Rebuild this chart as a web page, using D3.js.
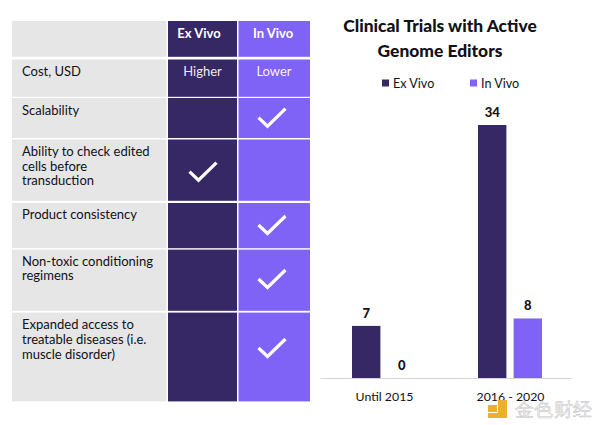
<!DOCTYPE html>
<html><head><meta charset="utf-8">
<script src="https://cdn.jsdelivr.net/npm/d3@7"></script>
<style>html,body{margin:0;padding:0;background:#fff}svg{display:block}text{font-family:Lato,"Open Sans",sans-serif}</style>
</head><body><svg id="c" width="600" height="425"></svg>
<script>
// ---- data ----
const methods = ["Ex Vivo", "In Vivo"];
const periods = ["Until 2015", "2016 - 2020"];
const exVivoTrials = [7, 34];
const inVivoTrials = [0, 8];
const chartTitle = ["Clinical Trials with Active", "Genome Editors"];
const rowLabels = [
  ["Cost, USD"],
  ["Scalability"],
  ["Ability to check edited", "cells before", "transduction"],
  ["Product consistency"],
  ["Non-toxic conditioning", "regimens"],
  ["Expanded access to", "treatable diseases (i.e.", "muscle disorder)"]
];
const exVivoCells = ["Higher", "", "check", "", "", ""];
const inVivoCells = ["Lower", "check", "", "check", "check", "check"];

// ---- styles / layout ----
const DARK = "#352865", PURPLE = "#7F63F7", GREY = "#E6E6E6", INK = "#111118";
const svg = d3.select("#c");
const rowEdges = [[59.5,96.8],[98,138],[139.5,200.8],[203,248.2],[249.6,310.8],[312.6,401.4]];
const textOffsets = [16, 17, 16.5, 16, 16, 16.7];
const checkCentres = [0, 117.7, 171.7, 225, 279, 348];
const colEdges = [[12,166.5],[168,237],[238.5,310]];
const lineH = 14.6;

// table header
[[colEdges[0],GREY,""],[colEdges[1],DARK,methods[0]],[colEdges[2],PURPLE,methods[1]]].forEach(([c,f,t],i)=>{
  svg.append("rect").attr("x",c[0]).attr("y",21).attr("width",c[1]-c[0]).attr("height",35.8).attr("fill",f);
  if(t) svg.append("text").attr("x",i===1?199:273).attr("y",38).attr("text-anchor","middle")
    .attr("font-size",13).attr("font-weight",700).attr("fill","#fff").text(t);
});

function check(cx, cy){
  svg.append("path").attr("d",d3.line()([[cx-13.5,cy],[cx-4.5,cy+8.5],[cx+13.5,cy-9]]))
    .attr("fill","none").attr("stroke","#fff").attr("stroke-width",3.2);
}
rowLabels.forEach((lines,i)=>{
  const [y0,y1] = rowEdges[i];
  colEdges.forEach((c,k)=>svg.append("rect").attr("x",c[0]).attr("y",y0).attr("width",c[1]-c[0]).attr("height",y1-y0)
    .attr("fill",[GREY,DARK,PURPLE][k]));
  lines.forEach((l,j)=>svg.append("text").attr("x",22).attr("y",y0+textOffsets[i]+j*lineH)
    .attr("font-size",13).attr("fill",INK).text(l));
  [[exVivoCells[i],203],[inVivoCells[i],272]].forEach(([v,cx],k)=>{
    if(v==="check") check(cx, checkCentres[i]);
    else if(v) svg.append("text").attr("x",k?274:202.5).attr("y",y0+16).attr("text-anchor","middle")
      .attr("font-size",13).attr("fill","#fff").attr("fill-opacity",.93).text(v);
  });
});

// chart title
chartTitle.forEach((t,i)=>svg.append("text").attr("x",440).attr("y",32+i*24.5).attr("text-anchor","middle")
  .attr("font-size",17.4).attr("font-weight",900).attr("fill",INK).text(t));

// legend
[[methods[0],DARK,382,393],[methods[1],PURPLE,470,481]].forEach(([t,f,x,tx])=>{
  svg.append("rect").attr("x",x).attr("y",79.5).attr("width",7).attr("height",7).attr("fill",f);
  svg.append("text").attr("x",tx).attr("y",87.5).attr("font-size",12.6).attr("fill",INK).text(t);
});

// bars
const y = d3.scaleLinear().domain([0,34]).range([378,125]);
const x = d3.scalePoint().domain(periods).range([384,510]);
const xs = d3.scaleOrdinal().domain(methods).range([-32,-32+35.6]);
const bw = 28.4;
const series = [[methods[0],exVivoTrials,DARK],[methods[1],inVivoTrials,PURPLE]];
series.forEach(([m,vals,f])=>{
  const g = svg.append("g");
  g.selectAll("rect").data(vals).join("rect")
    .attr("x",(d,i)=>x(periods[i])+xs(m)).attr("y",d=>y(d))
    .attr("width",bw).attr("height",d=>y(0)-y(d)).attr("fill",f);
  g.selectAll("text").data(vals).join("text")
    .attr("x",(d,i)=>x(periods[i])+xs(m)+bw/2).attr("y",d=>y(d)-8.3)
    .attr("text-anchor","middle").attr("font-size",13).attr("font-weight",900).attr("fill",INK).text(d=>d);
});
// axis
const ax = svg.append("g").attr("transform","translate(0,378)")
  .call(d3.axisBottom(x).tickSize(0).tickPadding(13));
ax.select(".domain").attr("d","M320.5,0.5H571.5").attr("stroke","#D4D4DA");
ax.selectAll("text").attr("font-size",12.3).attr("fill",INK).attr("y",14);

// watermark
const wm = svg.append("g").attr("fill","#EDB02D");
wm.append("rect").attr("x",488).attr("y",405).attr("width",9).attr("height",7);
wm.append("path").attr("d","M498,400H507V418H488V413H498Z");
wm.append("text").attr("x",515).attr("y",416).attr("font-family","Noto Sans CJK SC").attr("font-size",19)
  .attr("textLength",77).attr("fill","#F4F4F4").attr("stroke","#C4C4C4").attr("stroke-width",.5).text("金色财经");
</script></body></html>
